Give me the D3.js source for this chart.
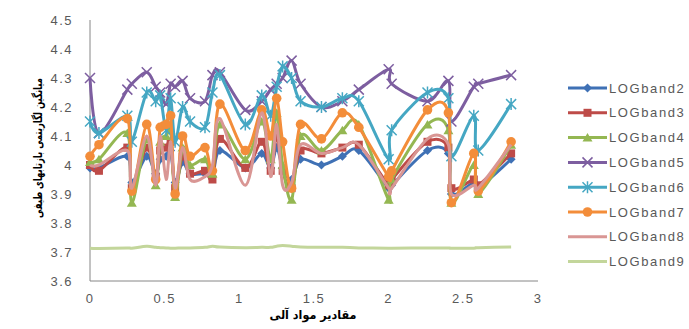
<!DOCTYPE html>
<html>
<head>
<meta charset="utf-8">
<script src="https://cdn.jsdelivr.net/npm/d3@7"></script>
<style>
  body { margin: 0; background: #fff; }
  text { font-family: "Liberation Sans", Arial, sans-serif; }
</style>
</head>
<body>
<svg id="chart" width="689" height="329"></svg>
<script>
// shared x values (organic matter)
const xValues = [0.00, 0.06, 0.25, 0.28, 0.38, 0.44, 0.47, 0.51, 0.54, 0.57, 0.62, 0.67, 0.77, 0.82, 0.87, 1.04,
  1.15, 1.21, 1.25, 1.29, 1.35, 1.41, 1.55, 1.69, 1.80, 2.00, 2.02, 2.26, 2.40, 2.42, 2.57, 2.60, 2.82];

const band2 = [3.99, 3.99, 4.03, 3.94, 4.03, 3.97, 4.02, 4.03, 4.05, 3.94, 4.01, 3.97, 3.97, 3.96, 4.05, 3.99,
  4.04, 3.99, 4.06, 3.99, 3.95, 4.02, 4.00, 4.03, 4.05, 3.92, 3.93, 4.05, 4.04, 3.90, 3.94, 3.92, 4.02];
const band3 = [4.00, 3.98, 4.06, 3.92, 4.06, 3.96, 4.05, 4.06, 4.08, 3.92, 4.03, 3.97, 3.98, 3.95, 4.09, 3.99,
  4.08, 3.98, 4.10, 3.98, 3.92, 4.05, 4.04, 4.06, 4.07, 3.93, 3.95, 4.08, 4.06, 3.92, 3.95, 3.93, 4.04];
const band4 = [4.01, 4.02, 4.11, 3.87, 4.09, 3.93, 4.08, 4.10, 4.12, 3.89, 4.06, 4.00, 4.02, 3.97, 4.14, 4.02,
  4.15, 4.02, 4.18, 4.00, 3.88, 4.10, 4.05, 4.12, 4.14, 3.88, 3.95, 4.14, 4.12, 3.87, 4.00, 3.90, 4.07];
const band5 = [4.30, 4.11, 4.26, 4.28, 4.32, 4.27, 4.25, 4.21, 4.28, 4.27, 4.29, 4.23, 4.22, 4.31, 4.32, 4.19,
  4.22, 4.26, 4.28, 4.30, 4.36, 4.28, 4.20, 4.22, 4.26, 4.33, 4.28, 4.22, 4.29, 4.15, 4.27, 4.28, 4.31];
const band6 = [4.15, 4.11, 4.17, 4.08, 4.25, 4.22, 4.24, 4.12, 4.23, 4.08, 4.20, 4.15, 4.13, 4.25, 4.31, 4.14,
  4.24, 4.17, 4.27, 4.34, 4.30, 4.22, 4.20, 4.23, 4.22, 4.02, 4.12, 4.25, 4.23, 4.03, 4.17, 4.05, 4.21];
const band7 = [4.03, 4.07, 4.16, 3.91, 4.14, 3.95, 4.13, 4.14, 4.17, 3.90, 4.10, 4.03, 4.06, 3.98, 4.21, 4.05,
  4.19, 4.10, 4.23, 4.08, 3.92, 4.14, 4.09, 4.18, 4.13, 3.96, 3.98, 4.19, 4.18, 3.87, 4.04, 3.91, 4.08];
const band8 = [4.00, 4.00, 4.05, 3.92, 4.10, 3.93, 4.10, 3.95, 4.08, 3.92, 4.06, 3.95, 3.96, 4.00, 4.16, 3.93,
  4.18, 3.96, 4.14, 3.93, 3.94, 4.07, 4.04, 4.06, 4.07, 3.92, 3.92, 4.09, 4.07, 3.90, 3.93, 3.92, 4.07];
const band9 = [3.713, 3.712, 3.714, 3.713, 3.720, 3.716, 3.715, 3.714, 3.713, 3.713, 3.714, 3.714, 3.716, 3.720,
  3.717, 3.715, 3.716, 3.716, 3.720, 3.722, 3.720, 3.717, 3.716, 3.716, 3.714, 3.713, 3.713, 3.714, 3.714, 3.713,
  3.713, 3.715, 3.717];

const seriesNames = ['LOGband2', 'LOGband3', 'LOGband4', 'LOGband5', 'LOGband6', 'LOGband7', 'LOGband8', 'LOGband9'];
const seriesValues = [band2, band3, band4, band5, band6, band7, band8, band9];
const seriesColors = ['#3f71b5', '#be4b48', '#94b752', '#7d5ea0', '#45a7c3', '#f38d3a', '#d99694', '#c3d69b'];
const seriesMarkers = ['diamond', 'square', 'triangle', 'x', 'star', 'circle', null, null];

const xTicks = [0, 0.5, 1, 1.5, 2, 2.5, 3];
const yTicks = [3.6, 3.7, 3.8, 3.9, 4, 4.1, 4.2, 4.3, 4.4, 4.5];

const svg = d3.select('#chart');

const x = d3.scaleLinear().domain([0, 3]).range([90, 538]);
const y = d3.scaleLinear().domain([3.6, 4.5]).range([281, 20]);

// axes
const axisColor = '#868686';
const labelColor = '#595959';

svg.append('line')
  .attr('x1', x(0)).attr('x2', x(0))
  .attr('y1', y(4.5)).attr('y2', y(3.6))
  .attr('stroke', axisColor).attr('stroke-width', 1);
svg.append('line')
  .attr('x1', x(0)).attr('x2', x(3))
  .attr('y1', y(3.6)).attr('y2', y(3.6))
  .attr('stroke', axisColor).attr('stroke-width', 1);

svg.append('g').selectAll('text')
  .data(yTicks)
  .enter().append('text')
  .attr('x', 73)
  .attr('y', d => y(d))
  .attr('dy', '0.35em')
  .attr('text-anchor', 'end')
  .attr('fill', labelColor)
  .style('font-size', '13px')
  .style('letter-spacing', '1.5px')
  .text(d => d);

svg.append('g').selectAll('text')
  .data(xTicks)
  .enter().append('text')
  .attr('x', d => x(d))
  .attr('y', 303)
  .attr('text-anchor', 'middle')
  .attr('fill', labelColor)
  .style('font-size', '13px')
  .style('letter-spacing', '1.5px')
  .text(d => d);

// axis titles, squeezed/stretched to the width they take in the original
function axisTitle(label, cx, cy, rotate, targetWidth) {
  const g = svg.append('g')
    .attr('transform', `translate(${cx},${cy}) rotate(${rotate})`);
  const t = g.append('text')
    .attr('text-anchor', 'middle')
    .attr('direction', 'rtl')
    .attr('dy', '0.35em')
    .style('font-family', '"DejaVu Sans", sans-serif')
    .style('font-size', '12px')
    .style('font-weight', 'bold')
    .text(label);
  const w = t.node().getComputedTextLength();
  t.attr('transform', `scale(${targetWidth / w},1)`);
}

axisTitle('میانگین لگاریتمی بازتابهای طیفی', 38, 148, -90, 140);
axisTitle('مقادیر مواد آلی', 313, 315, 0, 87);

// markers
function drawMarker(g, type, color, cx, cy) {
  if (type === 'diamond') {
    g.append('path')
      .attr('d', `M${cx},${cy - 4.5}L${cx + 4.5},${cy}L${cx},${cy + 4.5}L${cx - 4.5},${cy}Z`)
      .attr('fill', color);
  } else if (type === 'square') {
    g.append('rect')
      .attr('x', cx - 4).attr('y', cy - 4)
      .attr('width', 8).attr('height', 8)
      .attr('fill', color);
  } else if (type === 'triangle') {
    g.append('path')
      .attr('d', `M${cx},${cy - 4.5}L${cx + 5},${cy + 4}L${cx - 5},${cy + 4}Z`)
      .attr('fill', color);
  } else if (type === 'x') {
    g.append('path')
      .attr('d', `M${cx - 5},${cy - 5}L${cx + 5},${cy + 5}M${cx - 5},${cy + 5}L${cx + 5},${cy - 5}`)
      .attr('stroke', color).attr('stroke-width', 1.5).attr('fill', 'none');
  } else if (type === 'star') {
    g.append('path')
      .attr('d', `M${cx - 5},${cy - 5}L${cx + 5},${cy + 5}M${cx - 5},${cy + 5}L${cx + 5},${cy - 5}M${cx},${cy - 6}L${cx},${cy + 6}`)
      .attr('stroke', color).attr('stroke-width', 1.5).attr('fill', 'none');
  } else if (type === 'circle') {
    g.append('circle')
      .attr('cx', cx).attr('cy', cy).attr('r', 4.8)
      .attr('fill', color);
  }
}

const line = d3.line()
  .x(d => x(d[0]))
  .y(d => y(d[1]))
  .curve(d3.curveCardinal.tension(0));

const plot = svg.append('g');

seriesValues.forEach((vals, i) => {
  const pts = xValues.map((xv, j) => [xv, vals[j]]);
  const g = plot.append('g');
  g.append('path')
    .attr('d', line(pts))
    .attr('fill', 'none')
    .attr('stroke', seriesColors[i])
    .attr('stroke-width', 3)
    .attr('stroke-linejoin', 'round');
  if (seriesMarkers[i]) {
    pts.forEach(p => drawMarker(g, seriesMarkers[i], seriesColors[i], x(p[0]), y(p[1])));
  }
});

// legend
const legend = svg.append('g');
seriesNames.forEach((name, i) => {
  const ly = 88 + i * 24.8;
  const g = legend.append('g');
  g.append('line')
    .attr('x1', 568).attr('x2', 607)
    .attr('y1', ly).attr('y2', ly)
    .attr('stroke', seriesColors[i]).attr('stroke-width', 3);
  if (seriesMarkers[i]) drawMarker(g, seriesMarkers[i], seriesColors[i], 587.5, ly);
  g.append('text')
    .attr('x', 609)
    .attr('y', ly)
    .attr('dy', '0.35em')
    .attr('fill', labelColor)
    .style('font-size', '13px')
    .style('letter-spacing', '1.6px')
    .text(name);
});
</script>
</body>
</html>
